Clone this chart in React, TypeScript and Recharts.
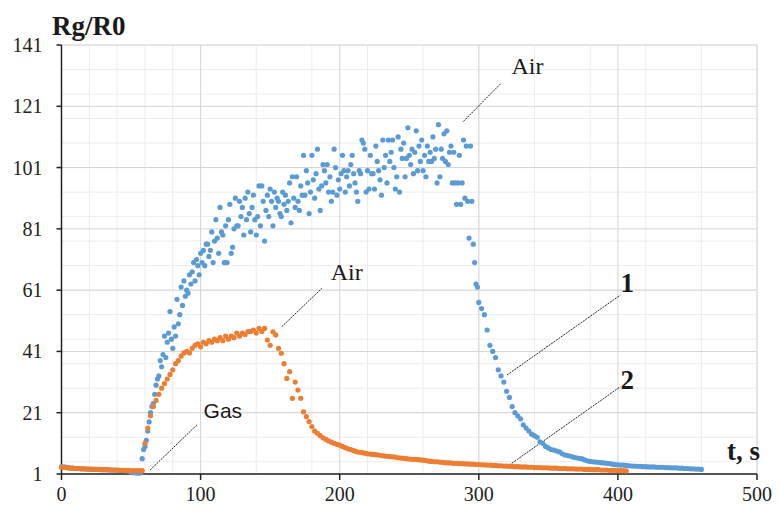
import { ScatterChart, Scatter, XAxis, YAxis, CartesianGrid, ReferenceLine, ReferenceDot } from "recharts"

// time axis (s) and Rg/R0 axis
const tTicks = [0, 100, 200, 300, 400, 500]
const yTicks = [1, 21, 41, 61, 81, 101, 121, 141]

// curve 1 (blue) — sampled in three stretches
const blueBaseStart = 0
const blueBaseStep = 2
const blueBase = [
  3.4, 3.3, 3.2, 3.0, 2.9, 2.8, 2.8, 2.7, 2.7, 2.6, 2.6, 2.5, 2.5, 2.5, 2.4,
  2.4, 2.4, 2.3, 2.3, 2.3, 2.2, 2.2, 2.2, 2.1, 2.0, 1.6, 1.4, 1.3, 1.3,
]

const blueMainStart = 57
const blueMainStep = 1
const blueMain = [
  1.4, 6, 9, 10, 12, 15, 18, 21, 23, 24, // 57
  27, 30, 32, 33, 38, 36, 40, 46, 39, 44, // 67
  47, 54, 45, 42, 49, 46, 58, 50, 53, 62, // 77
  56, 64, 59, 61, 60, 66, 63, 67, 70, 64, // 87
  71, 69, 66, 73, 70, 74, 69, 76, 76, 72, // 97
  74, 80, 70, 77, 84, 78, 73, 88, 80, 79, // 107
  70, 82, 70, 84, 89, 73, 75, 81, 91, 82, // 117
  82, 90, 85, 88, 79, 91, 84, 93, 86, 80, // 127
  88, 92, 84, 79, 85, 95, 82, 95, 90, 77, // 137
  87, 92, 85, 94, 90, 82, 93, 88, 91, 90, // 147
  86, 85, 93, 89, 92, 87, 90, 96, 83, 98, // 157
  91, 88, 98, 90, 87, 95, 92, 105, 92, 100, // 167
  96, 86, 93, 105, 97, 91, 99, 107, 94, 87, // 177
  95, 102, 100, 96, 102, 93, 98, 90, 93, 107, // 187
  101, 92, 97, 94, 99, 105, 100, 93, 98, 100, // 197
  95, 102, 105, 99, 96, 93, 90, 100, 99, 110, // 207
  109, 107, 93, 100, 94, 105, 99, 99, 94, 108, // 217
  103, 100, 97, 92, 110, 101, 105, 96, 110, 103, // 227
  106, 110, 101, 94, 98, 111, 93, 107, 104, 109, // 237
  98, 104, 114, 105, 102, 107, 99, 106, 113, 100, // 247
  108, 103, 110, 100, 105, 98, 108, 103, 106, 103, // 257
  111, 104, 107, 96, 115, 98, 107, 104, 112, 103, // 267
  113, 102, 106, 108, 96, 106, 96, 89, 96, 105, // 277
  89, 96, 110, 91, 108, 90, 78, 108, 90, 76, // 287
  70, 63, 62, // 297
]

const blueTailStart = 300
const blueTailStep = 2
const blueTail = [
  57, 55, 53, 48, 43, 41, 39, 35, 33, 31, 28, 26, 23, 21, 20, 19, 17, 16, 15, 14,
  13.5, 13, 11.5, 11, 10, 9.5, 9, 8.8, 8.5, 8.2, 7.6, 7.2, 7, 6.8, 6.5, 6.3, 6.1, 6, 5.6, 5.3,
  5.1, 5, 4.9, 4.8, 4.7, 4.6, 4.5, 4.4, 4.2, 4.1, 4, 3.9, 3.9, 3.8, 3.7, 3.6, 3.6, 3.5, 3.5, 3.4,
  3.4, 3.3, 3.3, 3.3, 3.2, 3.2, 3.2, 3.1, 3.1, 3, 3, 3, 2.9, 2.9, 2.8, 2.8, 2.7, 2.7, 2.6, 2.6,
  2.5,
]

// curve 2 (orange)
const orangeStart = 0
const orangeStep = 2
const orange = [
  3.2, 3.1, 3.0, 2.9, 2.9, 2.8, 2.8, 2.7, 2.7, 2.6, // 0
  2.6, 2.6, 2.5, 2.5, 2.5, 2.4, 2.4, 2.4, 2.3, 2.3, // 20
  2.3, 2.2, 2.2, 2.2, 2.2, 2.1, 2.1, 2.1, 2.1, 2.1, // 40
  11, 16, 20, 23, 25, 27, 29, 30.5, 32, 33.5, // 60
  35, 37, 38, 39.5, 40.5, 41, 40.5, 42, 43, 43.5, // 80
  42.5, 44, 43.5, 44.5, 44, 45, 44.5, 45.5, 44.5, 46, // 100
  45, 46, 45.5, 47, 46, 47, 46.5, 47.5, 47.5, 48, // 120
  47, 48.5, 47.5, 48.5, 44.7, 43, 47.4, 46.4, 42, 40.4, // 140
  37, 32.2, 34.4, 25.7, 31, 28.4, 25.7, 21.3, 19.7, 18.1, // 160
  16.5, 15, 14.3, 13.5, 12.8, 12.3, 11.8, 11.4, 11, 10.7, // 180
  10.4, 10, 9.6, 9.2, 9, 8.6, 8.3, 8.1, 8, 7.8, // 200
  7.6, 7.5, 7.4, 7.3, 7.2, 7, 6.9, 6.8, 6.7, 6.6, // 220
  6.5, 6.3, 6.2, 6.1, 6, 5.9, 5.8, 5.8, 5.7, 5.6, // 240
  5.5, 5.4, 5.2, 5.1, 5, 5, 4.9, 4.8, 4.7, 4.6, // 260
  4.6, 4.5, 4.5, 4.4, 4.4, 4.3, 4.3, 4.2, 4.2, 4.1, // 280
  4.1, 4, 4, 3.9, 3.9, 3.8, 3.8, 3.7, 3.7, 3.6, // 300
  3.6, 3.5, 3.5, 3.4, 3.4, 3.3, 3.3, 3.3, 3.2, 3.2, // 320
  3.1, 3.1, 3.1, 3, 3, 3, 2.9, 2.9, 2.9, 2.8, // 340
  2.8, 2.8, 2.7, 2.7, 2.7, 2.6, 2.6, 2.6, 2.5, 2.5, // 360
  2.5, 2.4, 2.4, 2.4, 2.3, 2.3, 2.3, 2.2, 2.2, 2.2, // 380
  2.1, 2.1, 2.1, 2, // 400
]

const toPoints = (start: number, step: number, values: number[]) =>
  values.map((v, i) => ({ t: start + i * step, v }))

const blueData = [
  ...toPoints(blueBaseStart, blueBaseStep, blueBase),
  ...toPoints(blueMainStart, blueMainStep, blueMain),
  ...toPoints(blueTailStart, blueTailStep, blueTail),
]
const orangeData = toPoints(orangeStart, orangeStep, orange)

// light minor grid between the major ticks
const tMinor = Array.from({ length: 26 }, (_, i) => i * 20)
const yMinor = Array.from({ length: 36 }, (_, i) => 1 + i * 4)

const serif = "'Liberation Serif', 'Times New Roman', serif"
const sans = "'Liberation Sans', Arial, sans-serif"

const Tag = (props: any) => {
  const { viewBox, text, family, size, weight } = props
  if (!viewBox) return null
  return (
    <text
      x={viewBox.x + viewBox.width / 2}
      y={viewBox.y + viewBox.height / 2}
      textAnchor="middle"
      dominantBaseline="central"
      style={{ fontFamily: family, fontSize: size, fontWeight: weight, fill: "#1a1a1a" }}
    >
      {text}
    </text>
  )
}

const XTick = (p: any) => (
  <text x={p.x} y={p.y} dy={15} textAnchor="middle" style={{ fontFamily: serif, fontSize: 20, fill: "#222" }}>
    {p.payload.value}
  </text>
)

const YTick = (p: any) => (
  <text x={p.x} y={p.y} dy={7} textAnchor="end" style={{ fontFamily: serif, fontSize: 20, fill: "#222" }}>
    {p.payload.value}
  </text>
)

const blueDot = (p: any) => <circle cx={p.cx} cy={p.cy} r={2.6} fill="#5b9bd5" />
const orangeDot = (p: any) => <circle cx={p.cx} cy={p.cy} r={2.6} fill="#ed7d31" />

const leader = { stroke: "#222", strokeWidth: 1, strokeDasharray: "2 1" }

export default function App() {
  return (
    <div style={{ position: "absolute", left: 0, top: 0, width: 779, height: 511, background: "#fff" }}>
      <ScatterChart width={779} height={511} margin={{ top: 45, right: 22, bottom: 7, left: 11.5 }}>
        <CartesianGrid stroke="#ececec" horizontalValues={yMinor} verticalValues={tMinor} />
        <CartesianGrid stroke="#d4d4d4" horizontalValues={yTicks} verticalValues={tTicks} />
        <XAxis
          type="number"
          dataKey="t"
          domain={[0, 500]}
          ticks={tTicks}
          height={30}
          tickSize={6}
          tickMargin={6}
          axisLine={{ stroke: "#222", strokeWidth: 1.5 }}
          tickLine={{ stroke: "#222", strokeWidth: 1.5 }}
          tick={<XTick />}
        />
        <YAxis
          type="number"
          dataKey="v"
          domain={[1, 141]}
          ticks={yTicks}
          width={50}
          tickSize={5}
          tickMargin={14}
          axisLine={{ stroke: "#222", strokeWidth: 1.5 }}
          tickLine={{ stroke: "#222", strokeWidth: 1.5 }}
          tick={<YTick />}
        />
        <Scatter data={blueData} shape={blueDot} isAnimationActive={false} />
        <Scatter data={orangeData} shape={orangeDot} isAnimationActive={false} />

        <ReferenceLine segment={[{ x: 288.8, y: 116 }, { x: 316.2, y: 128.6 }]} {...leader} ifOverflow="visible" />
        <ReferenceLine segment={[{ x: 158.4, y: 49.1 }, { x: 187.2, y: 61.6 }]} {...leader} ifOverflow="visible" />
        <ReferenceLine segment={[{ x: 63.7, y: 2.3 }, { x: 97.3, y: 17 }]} {...leader} ifOverflow="visible" />
        <ReferenceLine segment={[{ x: 320.3, y: 33.3 }, { x: 401.8, y: 59.4 }]} {...leader} ifOverflow="visible" />
        <ReferenceLine segment={[{ x: 320.3, y: 3.4 }, { x: 401.8, y: 29.5 }]} {...leader} ifOverflow="visible" />

        <ReferenceDot x={335} y={134} r={1} fill="none" stroke="none" ifOverflow="visible"
          label={<Tag text="Air" family={serif} size={24} weight={400} />} />
        <ReferenceDot x={205} y={67} r={1} fill="none" stroke="none" ifOverflow="visible"
          label={<Tag text="Air" family={serif} size={24} weight={400} />} />
        <ReferenceDot x={116} y={21.6} r={1} fill="none" stroke="none" ifOverflow="visible"
          label={<Tag text="Gas" family={sans} size={21} weight={400} />} />
        <ReferenceDot x={406.8} y={63.3} r={1} fill="none" stroke="none" ifOverflow="visible"
          label={<Tag text="1" family={serif} size={27} weight={700} />} />
        <ReferenceDot x={406.8} y={31.7} r={1} fill="none" stroke="none" ifOverflow="visible"
          label={<Tag text="2" family={serif} size={27} weight={700} />} />
      </ScatterChart>
      <svg width={779} height={511} style={{ position: "absolute", left: 0, top: 0, pointerEvents: "none" }}>
        <text x={52} y={35} style={{ fontFamily: serif, fontSize: 27, fontWeight: 700, fill: "#1a1a1a" }}>Rg/R0</text>
        <text x={727} y={460} style={{ fontFamily: serif, fontSize: 27, fontWeight: 700, fill: "#1a1a1a" }}>t, s</text>
      </svg>
    </div>
  )
}
